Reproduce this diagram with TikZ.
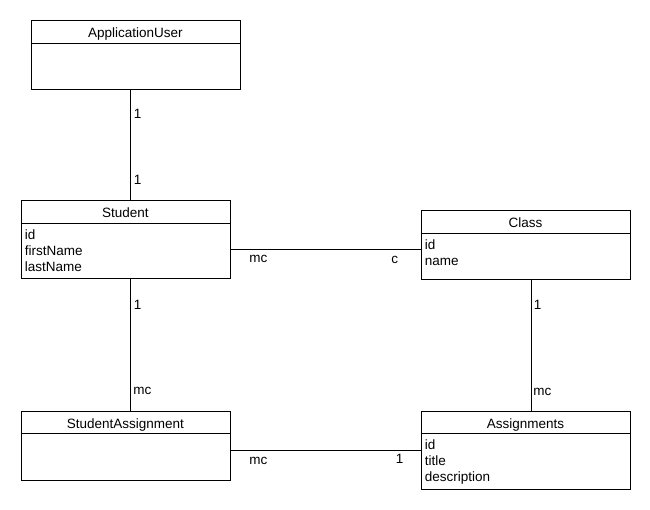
\documentclass[tikz,border=0pt]{standalone}
\usepackage{fontspec}
\setmainfont{Liberation Sans}
\begin{document}
\begin{tikzpicture}[x=1pt,y=-1pt,
    font=\fontsize{13.5}{16}\selectfont,
    line width=0.8pt,
    classbox/.style={draw, minimum width=209pt, anchor=north west, inner sep=0pt},
    attr/.style={anchor=base west, inner sep=0pt},
    lbl/.style={anchor=base west, inner sep=0pt}]
    \useasboundingbox (0,0) rectangle (650,510);

    % Classes
    \node[classbox, minimum height=68.5pt] (appuser) at (30.5,20.5) {};
    \node[classbox, minimum height=78pt] (student) at (20.5,200.5) {};
    \node[classbox, minimum height=68.5pt] (class) at (420.5,210.5) {};
    \node[classbox, minimum height=69pt] (studassign) at (20.5,410.5) {};
    \node[classbox, minimum height=78pt] (assign) at (420.5,410.5) {};

    % Titles and header lines
    \foreach \b/\t in {appuser/ApplicationUser, student/Student, class/Class,
                       studassign/StudentAssignment, assign/Assignments}
    {
        \draw ([yshift=-22.5pt]\b.north west) -- ([yshift=-22.5pt]\b.north east);
        \node[anchor=base, inner sep=0pt] (\b-title) at ([yshift=-17.5pt]\b.north) {\t};
    }

    % Attributes
    \foreach \a [count=\i] in {id,firstName,lastName}
        \node[attr] (student-\i) at ([xshift=4pt,yshift={-23pt-16pt*\i}]student.north west) {\a};
    \foreach \a [count=\i] in {id,name}
        \node[attr] (class-\i) at ([xshift=4pt,yshift={-23pt-16pt*\i}]class.north west) {\a};
    \foreach \a [count=\i] in {id,title,description}
        \node[attr] (assign-\i) at ([xshift=4pt,yshift={-23pt-16pt*\i}]assign.north west) {\a};

    % Associations
    \coordinate (colA) at (130,0);
    \coordinate (colB) at (531,0);
    \coordinate (rowA) at (0,249.5);
    \coordinate (rowB) at (0,450);
    \draw (colA |- appuser.south) -- (colA |- student.north);
    \draw (colA |- student.south) -- (colA |- studassign.north);
    \draw (colB |- class.south) -- (colB |- assign.north);
    \draw (rowA -| student.east) -- (rowA -| class.west);
    \draw (rowB -| studassign.east) -- (rowB -| assign.west);

    % Multiplicities
    \node[lbl] (m1) at (133.5,119) {1};
    \node[lbl] (m2) at (133.5,185) {1};
    \node[lbl] (m3) at (133.5,309) {1};
    \node[lbl] (m4) at (133,394) {mc};
    \node[lbl] (m5) at (533.5,310) {1};
    \node[lbl] (m6) at (533,395) {mc};
    \node[lbl] (m7) at (249,263) {mc};
    \node[lbl] (m8) at (391,264) {c};
    \node[lbl] (m9) at (249,464) {mc};
    \node[lbl] (m10) at (395.5,463) {1};
\end{tikzpicture}
\end{document}
